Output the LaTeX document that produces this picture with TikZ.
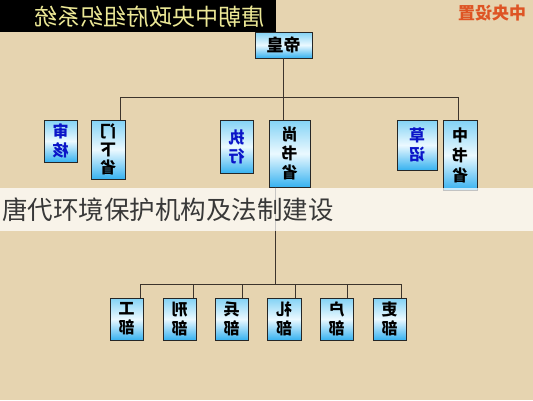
\documentclass[tikz,border=0pt]{standalone}
\usepackage{fontspec}
\setmainfont{Noto Sans CJK SC}
\usetikzlibrary{positioning}
\definecolor{bg}{RGB}{230,212,176}
\definecolor{ttl}{RGB}{236,232,150}
\definecolor{org}{RGB}{222,84,36}
\definecolor{bxtop}{RGB}{130,210,245}
\definecolor{bxmid}{RGB}{235,249,255}
\definecolor{bxbot}{RGB}{55,178,240}
\definecolor{ln}{RGB}{60,52,44}
\definecolor{blu}{RGB}{10,20,200}
\newcommand\mir[1]{\reflectbox{#1}}
\tikzset{
  box/.style={draw=black!85, line width=0.8pt, top color=bxtop, bottom color=bxbot, middle color=bxmid, inner sep=0pt, align=center, font=\fontsize{16}{19}\selectfont\bfseries},
  conn/.style={draw=ln, line width=0.8pt},
}
\begin{document}
\begin{tikzpicture}[x=1pt,y=-1pt]
\useasboundingbox (0,0) rectangle (533,400);
\fill[bg] (0,0) rectangle (533,400);
% title
\fill[black] (0,0) rectangle (276,32);
\node[text=ttl, font=\fontsize{23}{23}\selectfont] (title) at (150,17) {\mir{唐朝中央政府组织系统}};
\node[text=org, font=\fontsize{17}{17}\selectfont\bfseries] (ctr) at (492,13) {\mir{中央设置}};
% emperor
\node[box, minimum width=57, minimum height=26, font=\fontsize{17}{17}\selectfont\bfseries] (hd) at (283.5,45) {\mir{帝皇}};
% top row
\node[box, minimum width=33, minimum height=42, text=blu] (sh) at (60.5,141) {\mir{审}\\\mir{核}};
\node[box, minimum width=34, minimum height=59, font=\fontsize{16}{18}\selectfont\bfseries] (mx) at (108,149.5) {\mir{门}\\\mir{下}\\\mir{省}};
\node[box, minimum width=33, minimum height=53, text=blu] (zx) at (236.5,146.5) {\mir{执}\\\mir{行}};
\node[box, minimum width=41, minimum height=67, font=\fontsize{16}{19}\selectfont\bfseries] (ss) at (289.5,153.5) {\mir{尚}\\\mir{书}\\\mir{省}};
\node[box, minimum width=40, minimum height=50, text=blu] (cz) at (417,145) {\mir{草}\\\mir{诏}};
\node[box, minimum width=34, minimum height=70, font=\fontsize{16}{20}\selectfont\bfseries] (zs) at (460,155) {\mir{中}\\\mir{书}\\\mir{省}};
% bottom row
\node[box, minimum width=33, minimum height=42] (gb) at (126.5,319) {\mir{工}\\\mir{部}};
\node[box, minimum width=33, minimum height=42] (xb) at (179.5,319) {\mir{刑}\\\mir{部}};
\node[box, minimum width=33, minimum height=42] (bb) at (231.5,319) {\mir{兵}\\\mir{部}};
\node[box, minimum width=34, minimum height=42] (lb) at (284,319) {\mir{礼}\\\mir{部}};
\node[box, minimum width=33, minimum height=42] (hb) at (336.5,319) {\mir{户}\\\mir{部}};
\node[box, minimum width=33, minimum height=42] (yb) at (389.5,319) {\mir{吏}\\\mir{部}};
% top connectors
\coordinate (tL) at (120,97);
\coordinate (tR) at (458,97);
\coordinate (tM) at (283,97);
\draw[conn] (hd.south -| tM) -- (tM);
\draw[conn] (tL) -- (tR);
\draw[conn] (tL) -- (tL |- mx.north);
\draw[conn] (tM) -- (tM |- ss.north);
\draw[conn] (tR) -- (tR |- zs.north);
% bottom connectors
\coordinate (bM) at (275,284);
\coordinate (bL) at (140,284);
\coordinate (bR) at (401,284);
\draw[conn] (ss.south -| bM) -- (bM);
\draw[conn] (bL) -- (bR);
\foreach \n/\x in {gb/140,xb/193,bb/242,lb/295,hb/347,yb/401}{
  \coordinate (d\n) at (\x,284);
  \draw[conn] (d\n) -- (d\n |- \n.north);
}
% watermark band
\fill[white, opacity=0.72] (0,188) rectangle (533,231);
\node[anchor=west, text=black!78, font=\fontsize{25.5}{25.5}\selectfont, inner sep=0pt] (wm) at (2,210) {唐代环境保护机构及法制建设};
\end{tikzpicture}
\end{document}
